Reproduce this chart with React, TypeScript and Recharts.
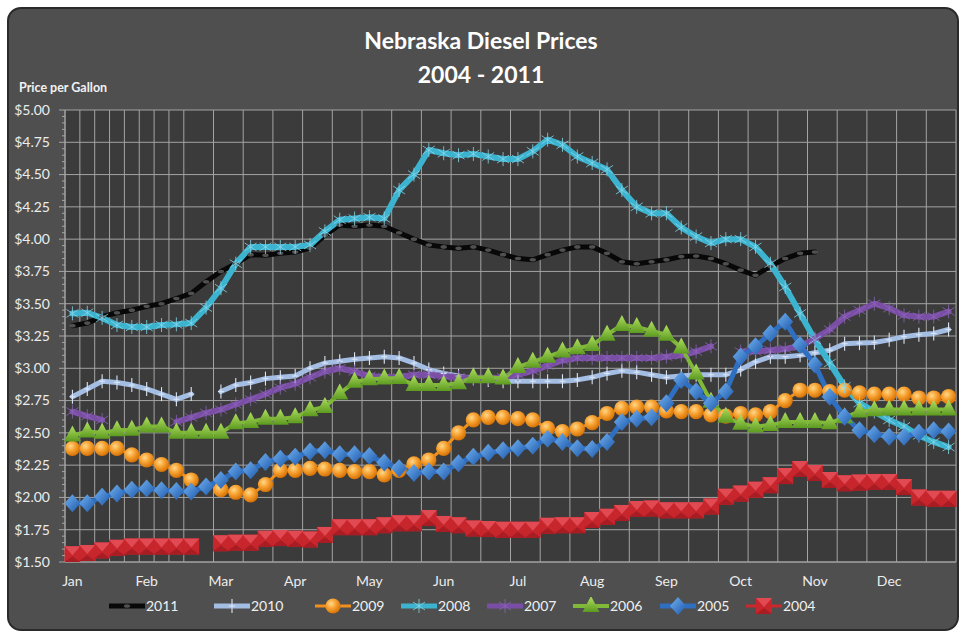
import React from 'react';
import { LineChart, Line, XAxis, YAxis, CartesianGrid } from 'recharts';

const months = ['Jan', 'Feb', 'Mar', 'Apr', 'May', 'Jun', 'Jul', 'Aug', 'Sep', 'Oct', 'Nov', 'Dec'];
const SLOTS = 60;
const N = null;

const y2011 = [3.33,3.35,3.40,3.43,3.45,3.48,3.50,3.54,3.58,3.67, 3.75,3.81,3.88,3.875,3.89,3.90,3.93,4.03,4.11,4.10, 4.11,4.10,4.05,4.00,3.955,3.94,3.93,3.94,3.915,3.88, 3.85,3.84,3.88,3.915,3.94,3.94,3.89,3.825,3.81,3.825, 3.84,3.865,3.87,3.85,3.81,3.76,3.72,3.79,3.85,3.89, 3.90,N,N,N,N,N,N,N,N,N];
const y2010 = [2.78,2.84,2.90,2.89,2.87,2.84,2.80,2.76,2.80,N, 2.82,2.87,2.89,2.92,2.93,2.94,3.00,3.04,3.055,3.07, 3.08,3.09,3.08,3.04,2.99,2.96,2.94,2.92,2.91,2.90, 2.90,2.90,2.90,2.90,2.91,2.93,2.96,2.98,2.97,2.95, 2.93,2.94,2.95,2.95,2.95,2.99,3.05,3.09,3.09,3.10, 3.12,3.14,3.19,3.195,3.20,3.22,3.245,3.26,3.27,3.30];
const y2009 = [2.38,2.38,2.38,2.38,2.33,2.29,2.255,2.21,2.135,N, 2.06,2.04,2.02,2.10,2.21,2.21,2.225,2.22,2.21,2.20, 2.20,2.175,2.21,2.26,2.29,2.38,2.50,2.60,2.62,2.62, 2.61,2.60,2.535,2.51,2.53,2.58,2.65,2.69,2.70,2.70, 2.67,2.665,2.665,2.64,2.63,2.65,2.64,2.665,2.75,2.83, 2.83,2.82,2.83,2.81,2.80,2.80,2.80,2.77,2.77,2.78];
const y2008 = [3.425,3.43,3.39,3.335,3.32,3.32,3.335,3.34,3.35,3.47, 3.62,3.81,3.94,3.94,3.94,3.94,3.955,4.06,4.15,4.16, 4.17,4.16,4.38,4.50,4.69,4.665,4.65,4.66,4.64,4.62, 4.62,4.68,4.77,4.73,4.64,4.59,4.54,4.38,4.25,4.20, 4.20,4.09,4.02,3.97,4.00,4.00,3.94,3.81,3.63,3.425, 3.22,3.04,2.86,2.73,2.665,2.60,2.55,2.48,2.43,2.39];
const y2007 = [2.665,2.63,2.60,N,N,N,N,2.585,2.62,2.655, 2.68,2.72,2.76,2.80,2.85,2.88,2.93,2.975,3.00,2.975, 2.94,2.93,2.93,2.95,2.95,2.94,2.93,2.92,2.92,2.93, 2.95,2.98,3.02,3.06,3.08,3.08,3.08,3.08,3.08,3.08, 3.09,3.10,3.13,3.17,N,3.13,3.13,3.14,3.15,3.17, 3.23,3.30,3.40,3.45,3.50,3.465,3.41,3.40,3.40,3.44];
const y2006 = [2.48,2.51,2.50,2.52,2.525,2.55,2.55,2.50,2.50,2.50, 2.50,2.575,2.585,2.61,2.61,2.62,2.675,2.70,2.805,2.895, 2.915,2.92,2.925,2.87,2.87,2.87,2.885,2.93,2.93,2.92, 3.01,3.05,3.09,3.13,3.155,3.18,3.26,3.335,3.32,3.29, 3.26,3.16,2.96,2.74,2.625,2.57,2.55,2.56,2.585,2.585, 2.585,2.575,2.62,2.665,2.675,2.68,2.68,2.68,2.68,2.68];
const y2005 = [1.955,1.955,2.005,2.03,2.06,2.07,2.055,2.05,2.045,2.085, 2.135,2.20,2.21,2.275,2.30,2.315,2.355,2.365,2.335,2.335, 2.32,2.27,2.225,2.19,2.20,2.20,2.265,2.315,2.345,2.365, 2.38,2.40,2.455,2.43,2.38,2.375,2.43,2.585,2.61,2.62, 2.73,2.91,2.82,2.73,2.82,3.09,3.17,3.27,3.36,3.18, 3.03,2.78,2.625,2.52,2.49,2.47,2.47,2.50,2.52,2.51];
const y2004 = [1.56,1.57,1.59,1.61,1.62,1.62,1.62,1.62,1.62,N, 1.645,1.65,1.65,1.68,1.685,1.68,1.675,1.71,1.77,1.77, 1.77,1.785,1.80,1.80,1.84,1.795,1.785,1.76,1.755,1.75, 1.75,1.75,1.78,1.785,1.785,1.825,1.85,1.88,1.91,1.915, 1.90,1.90,1.90,1.93,2.005,2.03,2.06,2.095,2.165,2.22, 2.19,2.135,2.11,2.115,2.12,2.12,2.08,2.00,1.99,1.99];

const yTicks = [1.5, 1.75, 2, 2.25, 2.5, 2.75, 3, 3.25, 3.5, 3.75, 4, 4.25, 4.5, 4.75, 5];
const yMinorTicks = Array.from({ length: 71 }, (_, i) => Math.round((1.5 + i * 0.05) * 100) / 100);
const monthTicks = months.map((_, i) => i * 5 + 0.5);
const gridTicks = Array.from({ length: SLOTS + 1 }, (_, i) => i);

const data = Array.from({ length: SLOTS }, (_, i) => ({
  x: i + 0.5,
  y2011: y2011[i], y2010: y2010[i], y2009: y2009[i], y2008: y2008[i],
  y2007: y2007[i], y2006: y2006[i], y2005: y2005[i], y2004: y2004[i],
}));

const ok = (p: any) => p && p.cx != null && p.cy != null && p.value != null && !Number.isNaN(p.cy);

const mark2011 = (cx: number, cy: number) => <ellipse cx={cx} cy={cy} rx={3.2} ry={1.8} fill="#505050" />;
const mark2010 = (cx: number, cy: number) => (
  <g>
    <line x1={cx} y1={cy - 7} x2={cx} y2={cy + 7} stroke="#dbe5f4" strokeWidth={1.1} />
    <line x1={cx - 3} y1={cy} x2={cx + 3} y2={cy} stroke="#dbe5f4" strokeWidth={1.1} />
  </g>
);
const mark2009 = (cx: number, cy: number) => <circle cx={cx} cy={cy} r={7.6} fill="url(#gOrange)" />;
const star = (cx: number, cy: number, c: string, w: number) => (
  <g stroke={c} strokeWidth={w}>
    <line x1={cx} y1={cy - 7} x2={cx} y2={cy + 7} />
    <line x1={cx - 6} y1={cy - 4} x2={cx + 6} y2={cy + 4} />
    <line x1={cx - 6} y1={cy + 4} x2={cx + 6} y2={cy - 4} />
  </g>
);
const mark2008 = (cx: number, cy: number) => star(cx, cy, '#86d6ea', 0.8);
const mark2007 = (cx: number, cy: number) => star(cx, cy, '#8a64b6', 0.8);
const mark2006 = (cx: number, cy: number) => (
  <polygon points={`${cx},${cy - 10} ${cx + 8.5},${cy + 6} ${cx - 8.5},${cy + 6}`} fill="url(#gGreen)" />
);
const mark2005 = (cx: number, cy: number) => (
  <polygon points={`${cx},${cy - 9} ${cx + 8},${cy} ${cx},${cy + 9} ${cx - 8},${cy}`} fill="url(#gBlue)" />
);
const mark2004 = (cx: number, cy: number) => {
  const s = 8;
  return (
    <g>
      <rect x={cx - s} y={cy - s} width={2 * s} height={2 * s} fill="#c7262d" />
      <polygon points={`${cx - s},${cy - s} ${cx + s},${cy - s} ${cx},${cy + 1}`} fill="#e14a52" />
      <polygon points={`${cx - s},${cy + s} ${cx + s},${cy + s} ${cx},${cy + 2}`} fill="#a81d23" />
    </g>
  );
};

const series = [
  { key: 'y2011', name: '2011', color: '#080808', width: 5, mark: mark2011 },
  { key: 'y2010', name: '2010', color: '#a3bde3', width: 5, mark: mark2010 },
  { key: 'y2009', name: '2009', color: '#f0901e', width: 3, mark: mark2009 },
  { key: 'y2008', name: '2008', color: '#3db4cf', width: 6, mark: mark2008 },
  { key: 'y2007', name: '2007', color: '#7b4ea6', width: 6, mark: mark2007 },
  { key: 'y2006', name: '2006', color: '#80b83a', width: 4, mark: mark2006 },
  { key: 'y2005', name: '2005', color: '#2f6fc2', width: 5, mark: mark2005 },
  { key: 'y2004', name: '2004', color: '#c9282d', width: 3, mark: mark2004 },
];

const legendX = [108, 213, 314, 400, 486, 572, 659, 745];

const makeDot = (mark: (cx: number, cy: number) => React.ReactNode) => (p: any) =>
  ok(p) ? <g key={`d-${p.index}`}>{mark(p.cx, p.cy)}</g> : <g key={`d-${p.index}`} />;

const isMajor = (v: number) => Math.abs(v * 4 - Math.round(v * 4)) < 1e-6;

const YTick = (p: any) => {
  const v = p.payload.value;
  const major = isMajor(v);
  const axisX = p.x + 15;
  return (
    <g>
      <line x1={axisX - (major ? 6 : 3)} y1={p.y} x2={axisX} y2={p.y} stroke="#a4a4a4" strokeWidth={1} />
      {major && (
        <text x={p.x} y={p.y} dy="0.35em" textAnchor="end" fill="#ececec" fontSize={14} fontFamily="Lato, sans-serif">
          {`$${v.toFixed(2)}`}
        </text>
      )}
    </g>
  );
};

const tickStyle = { fill: '#ececec', fontSize: 14, fontFamily: 'Lato, sans-serif' };

export default function App() {
  return (
    <div style={{ position: 'absolute', left: 0, top: 0, width: 962, height: 634, background: '#ffffff', fontFamily: 'Lato, sans-serif', overflow: 'hidden' }}>
      <div style={{ position: 'absolute', left: 7, top: 7, width: 948, height: 620, borderRadius: 14, background: '#4f4f4f', border: '2px solid #2a2a2a' }} />
      <div style={{ position: 'absolute', left: 0, width: 962, top: 23, textAlign: 'center', color: '#ffffff', fontWeight: 700, fontSize: 23, lineHeight: '34px' }}>
        Nebraska Diesel Prices<br />2004 - 2011
      </div>
      <div style={{ position: 'absolute', left: 19, top: 80, color: '#f2f2f2', fontWeight: 700, fontSize: 12.5, lineHeight: '16px' }}>Price per Gallon</div>
      <div style={{ position: 'absolute', left: 0, top: 0 }}>
        <LineChart width={962} height={634} data={data} margin={{ top: 110, right: 6, bottom: 42, left: 0 }}>
          <defs>
            <radialGradient id="gOrange" cx="38%" cy="35%" r="70%">
              <stop offset="0%" stopColor="#ffd88a" />
              <stop offset="45%" stopColor="#f7a232" />
              <stop offset="100%" stopColor="#d26c00" />
            </radialGradient>
            <linearGradient id="gGreen" x1="0" y1="0" x2="0" y2="1">
              <stop offset="0%" stopColor="#b0e060" />
              <stop offset="100%" stopColor="#5c9a20" />
            </linearGradient>
            <linearGradient id="gBlue" x1="0" y1="0" x2="1" y2="1">
              <stop offset="0%" stopColor="#72b2f2" />
              <stop offset="100%" stopColor="#1d58aa" />
            </linearGradient>
          </defs>
          <CartesianGrid xAxisId="g" yAxisId="g" stroke="#a4a4a4" strokeWidth={1} fill="#3b3b3b" fillOpacity={1} />
          <XAxis xAxisId="g" type="number" dataKey="x" domain={[0, SLOTS]} ticks={gridTicks} hide />
          <YAxis yAxisId="g" type="number" domain={[1.5, 5]} ticks={yTicks} hide allowDataOverflow />
          <XAxis
            type="number"
            dataKey="x"
            domain={[0, SLOTS]}
            ticks={monthTicks}
            interval={0}
            tickFormatter={(v: number) => months[Math.round((v - 0.5) / 5)]}
            tick={tickStyle}
            tickLine={false}
            axisLine={{ stroke: '#a4a4a4' }}
            tickMargin={8}
            height={30}
          />
          <YAxis
            type="number"
            domain={[1.5, 5]}
            ticks={yMinorTicks}
            interval={0}
            tick={<YTick />}
            tickLine={false}
            tickSize={6}
            tickMargin={9}
            axisLine={{ stroke: '#a4a4a4' }}
            width={65}
            allowDataOverflow
          />
          {series.map((s) => (
            <Line
              key={s.key}
              dataKey={s.key}
              name={s.name}
              stroke={s.color}
              strokeWidth={s.width}
              dot={makeDot(s.mark)}
              activeDot={false}
              isAnimationActive={false}
              connectNulls={false}
              strokeLinejoin="round"
              strokeLinecap="round"
            />
          ))}
        </LineChart>
      </div>
      {series.map((s, i) => (
        <div key={s.key} style={{ position: 'absolute', left: legendX[i], top: 597, height: 18, display: 'flex', alignItems: 'center' }}>
          <svg width={38} height={18} style={{ display: 'block' }}>
            <line x1={1} y1={9} x2={37} y2={9} stroke={s.color} strokeWidth={Math.min(s.width, 5)} />
            {s.mark(19, 9)}
          </svg>
          <span style={{ color: '#f0f0f0', fontSize: 14, lineHeight: '18px' }}>{s.name}</span>
        </div>
      ))}
    </div>
  );
}
